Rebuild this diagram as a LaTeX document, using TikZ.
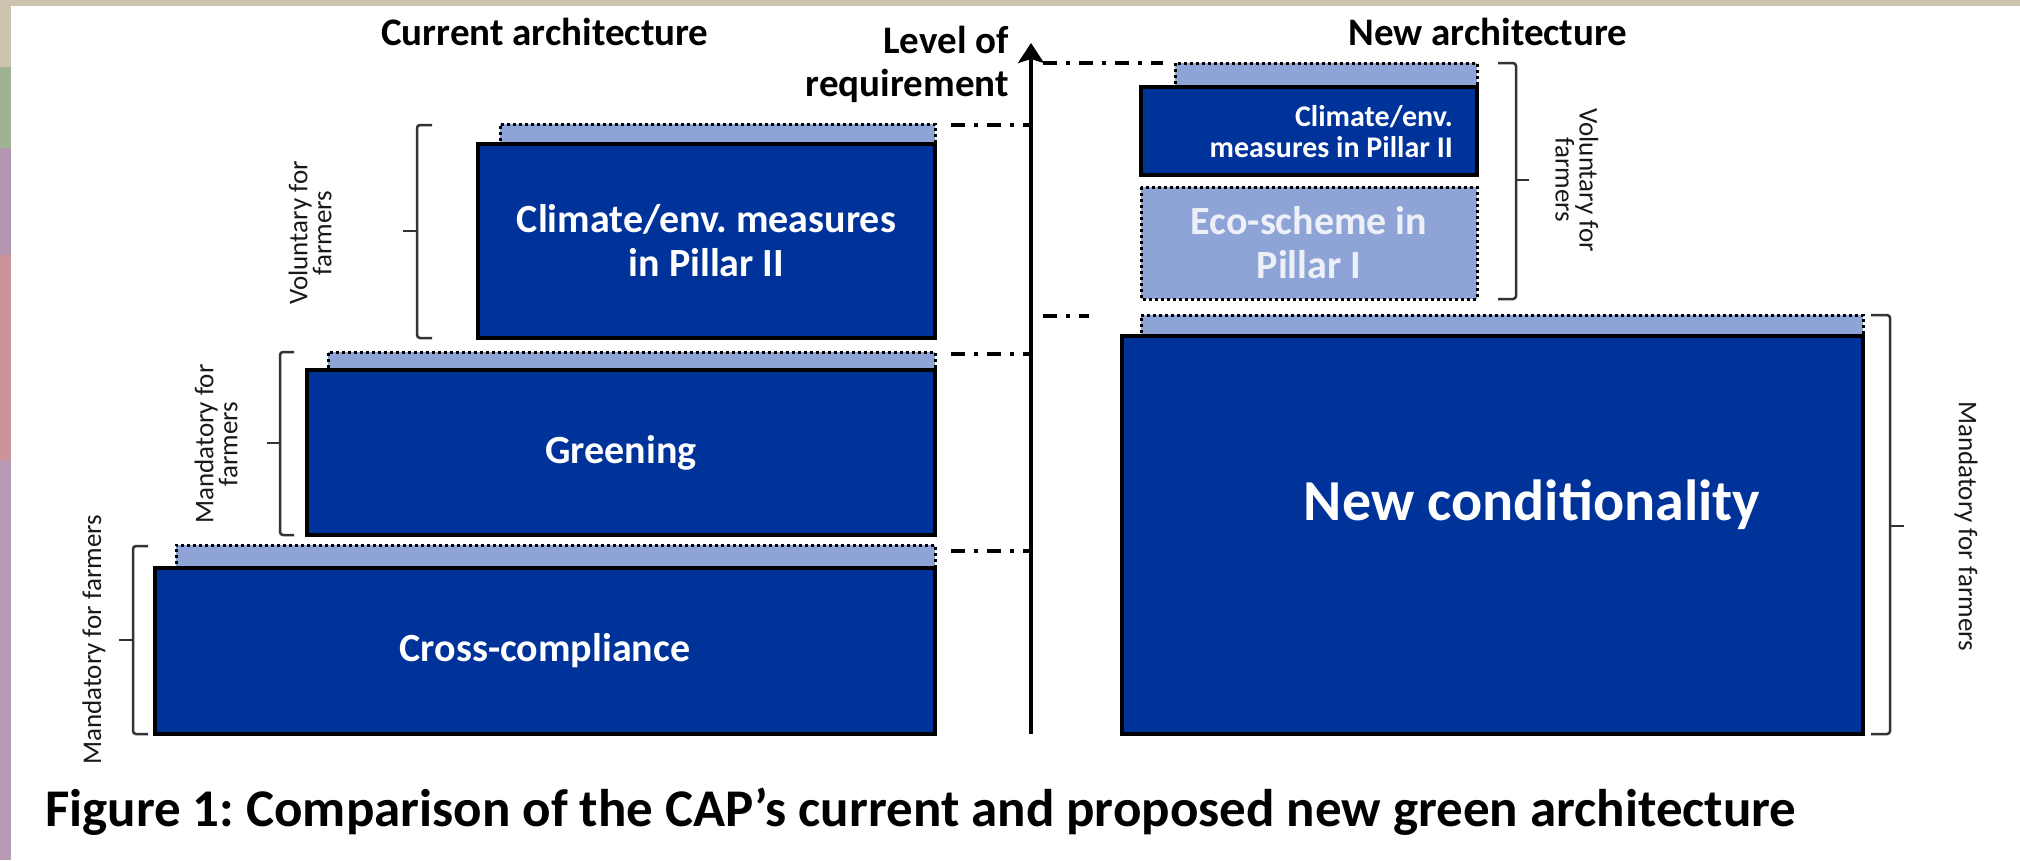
\documentclass[tikz,border=0pt]{standalone}
\usepackage{fontspec}
\setmainfont{Carlito}
\usetikzlibrary{arrows.meta}
\definecolor{navy}{HTML}{00339A}
\definecolor{lightb}{HTML}{8FA4D6}
\definecolor{bandbeige}{HTML}{CDC4B0}
\definecolor{stripgreen}{HTML}{9FB394}
\definecolor{stripmauve}{HTML}{B496B0}
\definecolor{strippink}{HTML}{CC949A}
\definecolor{stripmauvetwo}{HTML}{B89AB4}
\definecolor{ecotext}{HTML}{EEF0F8}
\frenchspacing
\begin{document}
\begin{tikzpicture}[x=1pt,y=-1pt,
  darkbox/.style={draw=black, line width=4pt, fill=navy, inner sep=0pt, outer sep=0pt, anchor=north west, text=white, align=center, font=\bfseries\fontsize{40}{44}\selectfont},
  stripbox/.style={fill=lightb, inner sep=0pt, outer sep=0pt, anchor=north west},
  dotedge/.style={line width=3pt, dash pattern=on 3pt off 3pt},
  titletext/.style={font=\bfseries\fontsize{39}{43}\selectfont, inner sep=0pt},
  sidelabel/.style={font=\fontsize{27}{24}\selectfont, align=center, inner sep=0pt, text=black!90},
  bracketline/.style={line width=2.5pt, draw=black!80, rounded corners=3pt},
  dashdotline/.style={line width=4pt, dash pattern=on 14pt off 9pt on 4pt off 9pt},
  axisline/.style={line width=3.5pt, -{Stealth[length=20pt,width=26pt,inset=4pt]}}
]
\useasboundingbox (0,0) rectangle (2020,860);
% background
\fill[white] (0,0) rectangle (2020,860);
\fill[bandbeige] (0,0) rectangle (2020,6);
\fill[bandbeige] (0,0) rectangle (11,67);
\fill[stripgreen] (0,67) rectangle (11,148);
\fill[stripmauve] (0,148) rectangle (11,255);
\fill[strippink] (0,255) rectangle (11,460);
\fill[stripmauvetwo] (0,460) rectangle (11,860);

% titles
\node[titletext] (curtitle) at (545,32) {Current architecture};
\node[titletext] (newtitle) at (1488,32) {New architecture};
\node[titletext, anchor=east, align=right] (level) at (1009,64) {Level of\\requirement};

% axis
\coordinate (axisbot) at (1031,734);
\coordinate (axistop) at (1031,43);
\draw[axisline] (axisbot) -- (axistop);

% ---------- current architecture ----------
\node[stripbox, minimum width=759pt, minimum height=25pt] (ccstrip) at (176,545) {};
\draw[dotedge] (ccstrip.south west) -- (ccstrip.north west) -- (ccstrip.north east) -- (ccstrip.south east);
\node[darkbox, minimum width=780pt, minimum height=166pt] (cc) at (155,568) {Cross-compliance};

\node[stripbox, minimum width=607pt, minimum height=22pt] (grstrip) at (328,352) {};
\draw[dotedge] (grstrip.south west) -- (grstrip.north west) -- (grstrip.north east) -- (grstrip.south east);
\node[darkbox, minimum width=628pt, minimum height=165pt] (gr) at (307,370) {Greening};

\node[stripbox, minimum width=435pt, minimum height=23pt] (clstrip) at (500,124) {};
\draw[dotedge] (clstrip.south west) -- (clstrip.north west) -- (clstrip.north east) -- (clstrip.south east);
\node[darkbox, minimum width=457pt, minimum height=194pt] (cl) at (478,144) {Climate/env. measures\\in Pillar II};

% dash-dot level lines (left)
\coordinate (lA) at (951,125);
\coordinate (lB) at (951,354);
\coordinate (lC) at (951,551);
\draw[dashdotline] (lA) -- (lA -| axisbot);
\draw[dashdotline] (lB) -- (lB -| axisbot);
\draw[dashdotline] (lC) -- (lC -| axisbot);

% brackets (left)
\draw[bracketline] (432,125) -- (417,125) -- (417,338) -- (432,338);
\draw[bracketline] (417,231) -- (403,231);
\draw[bracketline] (294,352) -- (280,352) -- (280,535) -- (294,535);
\draw[bracketline] (280,443) -- (267,443);
\draw[bracketline] (148,546) -- (133,546) -- (133,734) -- (148,734);
\draw[bracketline] (133,640) -- (119,640);

\node[sidelabel, rotate=90] (vl) at (310,233) {Voluntary for\\farmers};
\node[sidelabel, rotate=90] (mg) at (216,444) {Mandatory for\\farmers};
\node[sidelabel, rotate=90] (mc) at (94,640) {Mandatory for farmers};

% ---------- new architecture ----------
\node[stripbox, minimum width=302pt, minimum height=27pt] (rcstrip) at (1175,63) {};
\draw[dotedge] (rcstrip.south west) -- (rcstrip.north west) -- (rcstrip.north east) -- (rcstrip.south east);
\node[darkbox, minimum width=336pt, minimum height=88pt] (rc) at (1141,87) {};
\node[anchor=east, align=right, text=white, font=\bfseries\fontsize{30}{31}\selectfont, inner sep=0pt] (rctext) at (1453,132) {Climate/env.\\measures in Pillar II};

\node[stripbox, minimum width=336pt, minimum height=112pt, text=ecotext, align=center, font=\bfseries\fontsize{40}{44}\selectfont] (eco) at (1141,187) {Eco-scheme in\\Pillar I};
\draw[dotedge] (eco.north west) rectangle (eco.south east);

\node[stripbox, minimum width=722pt, minimum height=24pt] (ncstrip) at (1141,315) {};
\draw[dotedge] (ncstrip.south west) -- (ncstrip.north west) -- (ncstrip.north east) -- (ncstrip.south east);
\node[darkbox, minimum width=741pt, minimum height=398pt] (nc) at (1122,336) {};
\node[text=white, font=\bfseries\fontsize{58}{60}\selectfont, inner sep=0pt] (nctext) at (1532,505) {New conditionality};

% dash-dot level lines (right)
\coordinate (rA) at (1163,63);
\coordinate (rB) at (1089,316);
\draw[dashdotline] ([xshift=12pt]rA -| axisbot) -- (rA);
\draw[dashdotline] ([xshift=12pt]rB -| axisbot) -- (rB);

% brackets (right)
\draw[bracketline] (1498,63) -- (1516,63) -- (1516,299) -- (1498,299);
\draw[bracketline] (1516,180) -- (1529,180);
\draw[bracketline] (1871,315) -- (1890,315) -- (1890,734) -- (1871,734);
\draw[bracketline] (1890,526) -- (1904,526);

\node[sidelabel, rotate=-90] (vr) at (1577,180) {Voluntary for\\farmers};
\node[sidelabel, rotate=-90] (mr) at (1966,526) {Mandatory for farmers};

% caption
\node[anchor=west, inner sep=0pt, font=\bfseries\fontsize{53}{56}\selectfont] (caption) at (45,812) {Figure 1: Comparison of the CAP’s current and proposed new green architecture};
\end{tikzpicture}
\end{document}
